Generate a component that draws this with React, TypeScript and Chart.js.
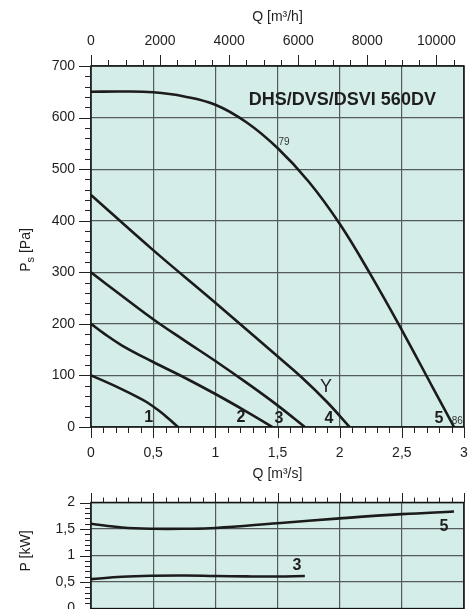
import { useEffect, useRef } from 'react';
import { Chart, registerables } from 'chart.js';

Chart.register(...registerables);

// ---------------- data ----------------
const Q_TICKS = [0, 0.5, 1, 1.5, 2, 2.5, 3];
const QH_TICKS = [0, 2000, 4000, 6000, 8000, 10000];
const PS_TICKS = [0, 100, 200, 300, 400, 500, 600, 700];
const P_TICKS = [0, 0.5, 1, 1.5, 2];

const CURVE1_Q = [0, 0.125, 0.25, 0.375, 0.45, 0.55, 0.625, 0.7];
const CURVE1_PS = [100, 87, 73, 58, 48, 31, 16, 0];
const CURVE2_Q = [0, 0.1, 0.25, 0.5, 0.75, 1.0, 1.25, 1.46];
const CURVE2_PS = [200, 182, 158, 126, 96, 64, 30, 0];
const CURVE3_Q = [0, 0.25, 0.5, 0.75, 1.0, 1.25, 1.5, 1.72];
const CURVE3_PS = [300, 254, 209, 168, 128, 86, 42, 0];
const CURVE4_Q = [0, 0.5, 1.0, 1.5, 1.7, 1.9, 2.08];
const CURVE4_PS = [450, 343, 241, 137, 95, 48, 0];
const CURVE5_Q = [0, 0.25, 0.5, 0.75, 1.0, 1.25, 1.5, 1.75, 2.0, 2.25, 2.5, 2.75, 2.92];
const CURVE5_PS = [650, 650.5, 649, 641, 625, 591, 541, 476, 394, 295, 188, 76, 0];

const POWER3_Q = [0, 0.25, 0.5, 0.75, 1.0, 1.25, 1.5, 1.72];
const POWER3_P = [0.555, 0.6, 0.62, 0.625, 0.615, 0.607, 0.605, 0.615];
const POWER5_Q = [0, 0.25, 0.5, 0.75, 1.0, 1.5, 2.0, 2.5, 2.92];
const POWER5_P = [1.6, 1.53, 1.505, 1.505, 1.52, 1.61, 1.7, 1.78, 1.83];

type Kind = 'num' | 'small' | 'big' | 'title';
type Note = { text: string; q: number; v: number; kind: Kind };

const PS_NOTES: Note[] = [
  { text: 'DHS/DVS/DSVI 560DV', q: 2.774, v: 634, kind: 'title' },
  { text: '79', q: 1.553, v: 552, kind: 'small' },
  { text: 'Y', q: 1.89, v: 77, kind: 'big' },
  { text: '1', q: 0.464, v: 19, kind: 'num' },
  { text: '2', q: 1.207, v: 19, kind: 'num' },
  { text: '3', q: 1.512, v: 16, kind: 'num' },
  { text: '4', q: 1.914, v: 16, kind: 'num' },
  { text: '5', q: 2.798, v: 16, kind: 'num' },
  { text: '86', q: 2.946, v: 11, kind: 'small' },
];
const P_NOTES: Note[] = [
  { text: '3', q: 1.657, v: 0.81, kind: 'num' },
  { text: '5', q: 2.838, v: 1.55, kind: 'num' },
];

// ---------------- styles ----------------
const FONT = '"Liberation Sans", Arial, Helvetica, sans-serif';
const INK = '#1e1e1e';
const GRID = '#555b5b';
const PLOT_BG = '#d5ede9';
const CURVE = '#1b1b1b';
const STYLES: Record<Kind, string> = {
  num: 'bold 16px ' + FONT,
  small: '10px ' + FONT,
  big: '18px ' + FONT,
  title: 'bold 18px ' + FONT,
};
const tickFont = { family: FONT, size: 14 };
const fmt = (v: number | string) => String(v).replace('.', ',');

const toPts = (xs: number[], ys: number[]) => xs.map((x, i) => ({ x, y: ys[i] }));
const lineDs = (xs: number[], ys: number[]) => ({
  data: toPts(xs, ys),
  borderColor: CURVE,
  borderWidth: 2.6,
  pointRadius: 0,
  fill: false,
  tension: 0.4,
  borderCapStyle: 'butt' as const,
});

function drawNotes(chart: any, notes: Note[]) {
  const { ctx } = chart;
  const xs = chart.scales.x;
  const ys = chart.scales.y;
  ctx.save();
  ctx.textBaseline = 'middle';
  for (const n of notes) {
    ctx.font = STYLES[n.kind];
    ctx.fillStyle = n.kind === 'small' ? '#333' : INK;
    ctx.textAlign = n.kind === 'title' ? 'right' : 'center';
    ctx.fillText(n.text, xs.getPixelForValue(n.q), ys.getPixelForValue(n.v));
  }
  ctx.restore();
}

function line(ctx: CanvasRenderingContext2D, x1: number, y1: number, x2: number, y2: number) {
  ctx.beginPath();
  ctx.moveTo(x1, y1);
  ctx.lineTo(x2, y2);
  ctx.stroke();
}

const crisp = (v: number) => Math.round(v) + 0.5;

const bgPlugin = {
  id: 'plotbg',
  beforeDraw(chart: any) {
    const { ctx, chartArea: a } = chart;
    ctx.save();
    ctx.fillStyle = PLOT_BG;
    ctx.fillRect(a.left, a.top, a.right - a.left, a.bottom - a.top);
    ctx.restore();
  },
};

function drawBorder(chart: any) {
  const { ctx, chartArea: a } = chart;
  ctx.save();
  ctx.strokeStyle = '#111';
  ctx.lineWidth = 1.5;
  ctx.strokeRect(a.left, a.top, a.right - a.left, a.bottom - a.top);
  ctx.restore();
}

function drawRotatedTitle(ctx: CanvasRenderingContext2D, cx: number, cy: number, parts: { t: string; sub?: boolean }[]) {
  ctx.save();
  ctx.translate(cx, cy);
  ctx.rotate(-Math.PI / 2);
  ctx.fillStyle = INK;
  ctx.textBaseline = 'middle';
  ctx.textAlign = 'left';
  const fonts = parts.map((p) => (p.sub ? '11px ' : '14px ') + FONT);
  const widths = parts.map((p, i) => {
    ctx.font = fonts[i];
    return ctx.measureText(p.t).width;
  });
  let x = -widths.reduce((s, w) => s + w, 0) / 2;
  parts.forEach((p, i) => {
    ctx.font = fonts[i];
    ctx.fillText(p.t, x, p.sub ? 5 : 0);
    x += widths[i];
  });
  ctx.restore();
}

const mainDecor = {
  id: 'mainDecor',
  afterDraw(chart: any) {
    const { ctx, chartArea: a } = chart;
    const xs = chart.scales.x;
    const x2 = chart.scales.x2;
    const ys = chart.scales.y;
    drawBorder(chart);
    ctx.save();
    ctx.strokeStyle = '#222';
    ctx.lineWidth = 1;
    for (let i = 0; i <= 35; i++) {
      const y = crisp(ys.getPixelForValue(i * 20));
      const len = i % 5 === 0 ? 12 : 6;
      line(ctx, a.left - len, y, a.left, y);
    }
    for (let i = 0; i <= 21; i++) {
      const x = crisp(x2.getPixelForValue(i * 500));
      const len = i % 4 === 0 ? 11 : 6;
      line(ctx, x, a.top - len, x, a.top);
    }
    for (let i = 0; i <= 30; i++) {
      const x = crisp(xs.getPixelForValue(i / 10));
      const len = i % 5 === 0 ? 11 : 6;
      line(ctx, x, a.bottom, x, a.bottom + len);
    }
    ctx.restore();
    drawRotatedTitle(ctx, 26, 250, [{ t: 'P' }, { t: 's', sub: true }, { t: ' [Pa]' }]);
    drawNotes(chart, PS_NOTES);
  },
};

const powerDecor = {
  id: 'powerDecor',
  afterDraw(chart: any) {
    const { ctx, chartArea: a } = chart;
    const xs = chart.scales.x;
    const ys = chart.scales.y;
    drawBorder(chart);
    ctx.save();
    ctx.strokeStyle = '#222';
    ctx.lineWidth = 1;
    for (let i = 0; i <= 20; i++) {
      const y = crisp(ys.getPixelForValue(i / 10));
      const len = i % 5 === 0 ? 11 : 6;
      line(ctx, a.left - len, y, a.left, y);
    }
    for (let i = 0; i <= 30; i++) {
      const x = crisp(xs.getPixelForValue(i / 10));
      const len = i % 5 === 0 ? 9.5 : 5;
      line(ctx, x, a.top - len, x, a.top);
    }
    ctx.restore();
    drawRotatedTitle(ctx, 26, 551, [{ t: 'P [kW]' }]);
    drawNotes(chart, P_NOTES);
  },
};

const setTicks = (vals: number[]) => (s: any) => {
  s.ticks = vals.map((value) => ({ value }));
};
const noPad = (s: any) => {
  s.paddingLeft = 0;
  s.paddingRight = 0;
  s.paddingTop = 0;
  s.paddingBottom = 0;
};

export default function App() {
  const ref1 = useRef<HTMLCanvasElement>(null);
  const ref2 = useRef<HTMLCanvasElement>(null);

  useEffect(() => {
    const main = new Chart(ref1.current!, {
      type: 'line',
      data: {
        datasets: [
          lineDs(CURVE1_Q, CURVE1_PS),
          lineDs(CURVE2_Q, CURVE2_PS),
          lineDs(CURVE3_Q, CURVE3_PS),
          lineDs(CURVE4_Q, CURVE4_PS),
          lineDs(CURVE5_Q, CURVE5_PS),
        ],
      },
      options: {
        responsive: false,
        animation: false,
        events: [],
        layout: { padding: { left: 0, right: 7, top: 0, bottom: 109 } },
        plugins: { legend: { display: false }, tooltip: { enabled: false } },
        scales: {
          x: {
            type: 'linear',
            position: 'bottom',
            min: 0,
            max: 3,
            afterBuildTicks: setTicks(Q_TICKS),
            afterFit: (s: any) => {
              s.height = 73;
              noPad(s);
            },
            grid: { color: GRID, lineWidth: 1.2, drawTicks: false },
            border: { display: false },
            ticks: { padding: 17.6, font: tickFont, color: INK, maxRotation: 0, autoSkip: false, callback: (v: any) => fmt(v) },
            title: { display: true, text: 'Q [m³/s]', font: tickFont, color: INK, padding: { top: 0, bottom: 17.6 } },
          },
          x2: {
            type: 'linear',
            position: 'top',
            min: 0,
            max: 10800,
            afterBuildTicks: setTicks(QH_TICKS),
            afterFit: (s: any) => {
              s.height = 66;
              noPad(s);
            },
            grid: { display: false },
            border: { display: false },
            ticks: { padding: 8.6, font: tickFont, color: INK, maxRotation: 0, autoSkip: false, callback: (v: any) => String(v) },
            title: { display: true, text: 'Q [m³/h]', font: tickFont, color: INK, padding: { top: 8.4, bottom: 0 } },
          },
          y: {
            type: 'linear',
            position: 'left',
            min: 0,
            max: 700,
            afterBuildTicks: setTicks(PS_TICKS),
            afterFit: (s: any) => {
              s.width = 91;
              noPad(s);
            },
            grid: { color: GRID, lineWidth: 1.2, drawTicks: false },
            border: { display: false },
            ticks: { padding: 16, font: tickFont, color: INK, callback: (v: any) => fmt(v) },
          },
        },
      },
      plugins: [bgPlugin, mainDecor],
    } as any);

    const power = new Chart(ref2.current!, {
      type: 'line',
      data: {
        datasets: [lineDs(POWER3_Q, POWER3_P), lineDs(POWER5_Q, POWER5_P)],
      },
      options: {
        responsive: false,
        animation: false,
        events: [],
        layout: { padding: { left: 0, right: 7, top: 502.5, bottom: 0 } },
        plugins: { legend: { display: false }, tooltip: { enabled: false } },
        scales: {
          x: {
            type: 'linear',
            position: 'bottom',
            min: 0,
            max: 3,
            afterBuildTicks: setTicks(Q_TICKS),
            afterFit: (s: any) => {
              s.height = 0.4;
              noPad(s);
            },
            grid: { color: GRID, lineWidth: 1.2, drawTicks: false },
            border: { display: false },
            ticks: { display: false },
          },
          y: {
            type: 'linear',
            position: 'left',
            min: 0,
            max: 2,
            afterBuildTicks: setTicks(P_TICKS),
            afterFit: (s: any) => {
              s.width = 91;
              noPad(s);
            },
            grid: { color: GRID, lineWidth: 1.2, drawTicks: false },
            border: { display: false },
            ticks: { padding: 16, font: tickFont, color: INK, callback: (v: any) => fmt(v) },
          },
        },
      },
      plugins: [bgPlugin, powerDecor],
    } as any);

    return () => {
      main.destroy();
      power.destroy();
    };
  }, []);

  return (
    <div
      style={{
        position: 'fixed',
        left: 0,
        top: 0,
        width: 471,
        height: 609,
        overflow: 'hidden',
        background: '#fff',
      }}
    >
      <canvas ref={ref1} width={471} height={609} style={{ position: 'absolute', left: 0, top: 0 }} />
      <canvas ref={ref2} width={471} height={609} style={{ position: 'absolute', left: 0, top: 0 }} />
    </div>
  );
}
